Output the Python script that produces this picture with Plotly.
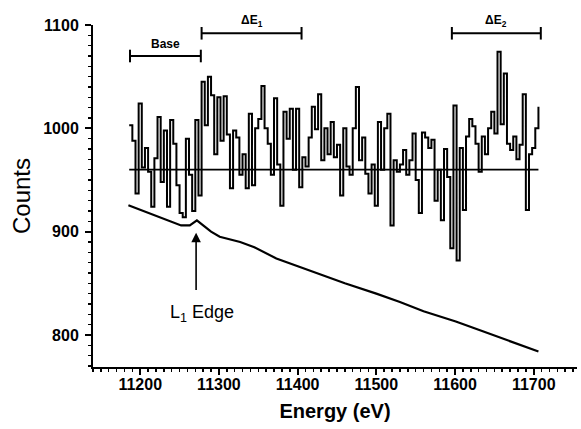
import plotly.graph_objects as go

# ---- data ----
energy_start = 11186
energy_step = 4
counts = [
    1003, 988, 937, 1024, 962, 981, 958, 924, 971, 1011,
    948, 998, 924, 1008, 985, 945, 918, 914, 990, 955,
    920, 1008, 935, 1045, 1003, 1050, 1032, 975, 1030, 988,
    1031, 994, 942, 998, 991, 955, 975, 942, 1014, 945,
    1000, 1009, 1041, 1000, 985, 955, 1029, 965, 925, 1016,
    990, 1019, 960, 1019, 943, 972, 963, 991, 1021, 999,
    1033, 969, 1000, 975, 1006, 972, 984, 935, 1000, 963,
    955, 1000, 1040, 969, 991, 956, 937, 965, 925, 1006,
    960, 1000, 1014, 906, 969, 958, 965, 979, 955, 969,
    995, 950, 918, 996, 991, 981, 989, 930, 960, 911,
    980, 953, 884, 1022, 872, 981, 921, 992, 1009, 1002,
    985, 958, 992, 975, 1000, 1016, 995, 1074, 1004, 1053,
    985, 979, 992, 970, 984, 1033, 921, 975, 981, 1000,
    1021,
]
energy = [energy_start + energy_step * i for i in range(len(counts))]

baseline_energy = [11186, 11706]
baseline_counts = [960, 960]

bg_energy = [11185, 11200, 11220, 11240, 11252, 11263, 11268, 11272, 11280,
             11290, 11301, 11315, 11327, 11345, 11373, 11402, 11430, 11460,
             11500, 11530, 11560, 11601, 11630, 11660, 11690, 11706]
bg_counts = [925.5, 921, 915, 909, 906, 906, 909, 911, 906,
             900, 895, 892, 890, 885, 874, 866, 858, 850,
             840, 832, 823, 813, 805, 797, 789, 784]

bracket_labels = ["Base", "ΔE<sub>1</sub>", "ΔE<sub>2</sub>"]
bracket_start = [11187, 11278, 11596]
bracket_end = [11277, 11405, 11709]
bracket_level = [1070, 1092, 1092]

edge_energy = 11271
edge_head = 899
edge_tail = 842
edge_label_y = 821

FONT = "Liberation Sans, Arial, sans-serif"

fig = go.Figure()

fig.add_trace(go.Scatter(x=baseline_energy, y=baseline_counts, mode="lines",
                         line=dict(color="black", width=1.8), showlegend=False))
fig.add_trace(go.Scatter(x=energy, y=counts, mode="lines", line_shape="hv",
                         line=dict(color="black", width=2), showlegend=False))
fig.add_trace(go.Scatter(x=bg_energy, y=bg_counts, mode="lines",
                         line=dict(color="black", width=2.2), showlegend=False))

for lab, s, e, lv in zip(bracket_labels, bracket_start, bracket_end, bracket_level):
    fig.add_trace(go.Scatter(x=[s, e], y=[lv, lv], mode="lines+markers",
                             line=dict(color="black", width=2),
                             marker=dict(symbol="line-ns", size=9,
                                         line=dict(color="black", width=2)),
                             showlegend=False, cliponaxis=False))
    fig.add_annotation(x=(s + e) / 2, y=lv, yshift=12, yanchor="middle",
                       text="<b>" + lab + "</b>",
                       showarrow=False, font=dict(family=FONT, size=12, color="black"))

fig.add_annotation(x=edge_energy, y=edge_head, ax=edge_energy, ay=edge_tail,
                   axref="x", ayref="y", showarrow=True, arrowhead=2,
                   arrowsize=1.2, arrowwidth=1.6, arrowcolor="black", text="")
fig.add_annotation(x=edge_energy + 7, y=edge_label_y, text="L<sub>1</sub> Edge",
                   showarrow=False, font=dict(family=FONT, size=18, color="black"))

fig.update_layout(
    width=581, height=429,
    margin=dict(l=93, r=4, t=25, b=62),
    paper_bgcolor="white", plot_bgcolor="white",
    font=dict(family=FONT, color="black"),
    hovermode=False,
)
xt = [11200, 11300, 11400, 11500, 11600, 11700]
fig.update_xaxes(
    automargin=False,
    range=[11140, 11755], tickvals=xt,
    ticktext=["<b>%d</b>" % v for v in xt],
    showline=True, linecolor="black", linewidth=2, mirror=False,
    ticks="outside", ticklen=6, tickwidth=2, tickcolor="black",
    ticklabelstandoff=-4,
    minor=dict(dtick=10, tick0=11200, ticks="outside", ticklen=3, tickwidth=1.5, tickcolor="black"),
    showgrid=False, zeroline=False,
    tickfont=dict(family=FONT, size=16, color="black"),
    title=dict(text="<b>Energy (eV)</b>", font=dict(family=FONT, size=20, color="black"), standoff=12),
)
yt = [800, 900, 1000, 1100]
fig.update_yaxes(
    automargin=False,
    range=[769, 1100], tickvals=yt,
    ticktext=["<b>%d</b>" % v for v in yt],
    showline=True, linecolor="black", linewidth=2,
    ticks="outside", ticklen=6, tickwidth=2, tickcolor="black",
    ticklabelstandoff=3,
    minor=dict(dtick=10, tick0=800, ticks="outside", ticklen=3, tickwidth=1.5, tickcolor="black"),
    showgrid=False, zeroline=False,
    tickfont=dict(family=FONT, size=16, color="black"),
    title=dict(text="Counts", font=dict(family=FONT, size=24, color="black"), standoff=6),
)

fig.write_html("out.html", config={"displayModeBar": False, "staticPlot": True},
               post_script="document.body.style.margin='0';document.body.style.overflow='hidden';")
